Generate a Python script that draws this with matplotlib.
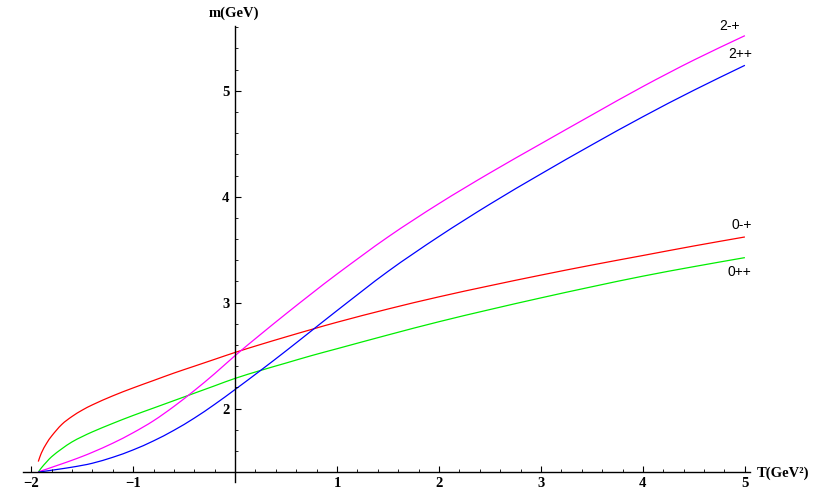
import matplotlib
matplotlib.use('Agg')
import matplotlib.pyplot as plt
from matplotlib.path import Path
from matplotlib.patches import PathPatch
from matplotlib.ticker import MultipleLocator, FixedLocator, FixedFormatter

# T values (GeV^2) shared by all curves
T = [-1.93, -1.9, -1.85, -1.8, -1.7, -1.6, -1.5, -1.4, -1.2, -1.0, -0.8, -0.6, -0.4, -0.2,
     0, 0.25, 0.5, 0.75, 1, 1.5, 2, 2.5, 3, 3.5, 4, 4.5, 5]

# masses (GeV)
m_0mp = [1.50, 1.58, 1.67, 1.74, 1.85, 1.925, 1.985, 2.035, 2.12, 2.195, 2.265, 2.335, 2.40, 2.465,
         2.53, 2.605, 2.677, 2.747, 2.815, 2.94, 3.055, 3.16, 3.26, 3.355, 3.445, 3.535, 3.62]
m_0pp = [1.40, 1.44, 1.495, 1.545, 1.62, 1.685, 1.735, 1.78, 1.86, 1.935, 2.005, 2.075, 2.145, 2.215,
         2.285, 2.36, 2.43, 2.50, 2.565, 2.695, 2.82, 2.935, 3.045, 3.15, 3.25, 3.34, 3.425]
m_2mp = [1.40, 1.412, 1.428, 1.445, 1.478, 1.512, 1.548, 1.587, 1.673, 1.772, 1.885, 2.02, 2.17, 2.33,
         2.50, 2.70, 2.895, 3.085, 3.27, 3.62, 3.935, 4.225, 4.50, 4.772, 5.04, 5.29, 5.52]
m_2pp = [1.40, 1.404, 1.411, 1.418, 1.432, 1.447, 1.464, 1.484, 1.54, 1.61, 1.695, 1.795, 1.91, 2.04,
         2.18, 2.36, 2.545, 2.735, 2.925, 3.295, 3.625, 3.93, 4.215, 4.49, 4.755, 5.005, 5.24]

x_labels = ['\u22122', '\u22121', '1', '2', '3', '4', '5']
x_major = [-2, -1, 1, 2, 3, 4, 5]
y_major = [2, 3, 4, 5]


def smooth_path(xs, ys):
    # cubic Hermite curve through the read points, as Bezier segments
    n = len(xs)
    d = []
    for i in range(n):
        a, b = max(i - 1, 0), min(i + 1, n - 1)
        d.append((ys[b] - ys[a]) / (xs[b] - xs[a]))
    verts = [(xs[0], ys[0])]
    codes = [Path.MOVETO]
    for i in range(n - 1):
        h = xs[i + 1] - xs[i]
        verts += [(xs[i] + h / 3, ys[i] + d[i] * h / 3),
                  (xs[i + 1] - h / 3, ys[i + 1] - d[i + 1] * h / 3),
                  (xs[i + 1], ys[i + 1])]
        codes += [Path.CURVE4] * 3
    return Path(verts, codes)


plt.rcParams['font.family'] = 'Liberation Serif'

fig = plt.figure(figsize=(8.21, 4.93), dpi=100)
ax = fig.add_axes([0.028, 0.0223, 0.8855, 0.9247])

for m, c in [(m_0mp, '#ff0000'), (m_0pp, '#00ee00'), (m_2mp, '#ff00ff'), (m_2pp, '#0000ff')]:
    ax.add_patch(PathPatch(smooth_path(T, m), facecolor='none', edgecolor=c, lw=0.9))

ax.set_xlim(-2.08, 5.05)
ax.set_ylim(1.307, 5.61)

# Mathematica-like axes crossing at (0, 1.4)
ax.spines['top'].set_visible(False)
ax.spines['right'].set_visible(False)
ax.spines['left'].set_position(('data', 0))
ax.spines['bottom'].set_position(('data', 1.4))
for s in ['left', 'bottom']:
    ax.spines[s].set_linewidth(1.0)

ax.xaxis.set_major_locator(FixedLocator(x_major))
ax.xaxis.set_major_formatter(FixedFormatter(x_labels))
ax.xaxis.set_minor_locator(MultipleLocator(0.2))
ax.yaxis.set_major_locator(FixedLocator(y_major))
ax.yaxis.set_minor_locator(MultipleLocator(0.2))

ax.tick_params(which='major', direction='in', length=4, width=0.8, labelsize=10.5, pad=4)
ax.tick_params(which='minor', direction='in', length=2.5, width=0.6)
ax.tick_params(axis='x', which='major', pad=3.5)
for lbl in ax.get_xticklabels() + ax.get_yticklabels():
    lbl.set_fontweight('bold')

ax.text(-0.01, 5.735, 'm(GeV)', ha='center', va='center', fontsize=10.5,
        fontweight='bold', clip_on=False)
ax.text(5.12, 1.39, 'T(GeV\u00b2)', ha='left', va='center', fontsize=10.5,
        fontweight='bold', clip_on=False)

lab = dict(fontsize=10, family='Liberation Sans', ha='center', va='center', clip_on=False)
ax.text(4.85, 5.61, '2-+', **lab)
ax.text(4.95, 5.35, '2++', **lab)
ax.text(4.97, 3.73, '0-+', **lab)
ax.text(4.95, 3.29, '0++', **lab)

fig.savefig('out.png', dpi=100)
